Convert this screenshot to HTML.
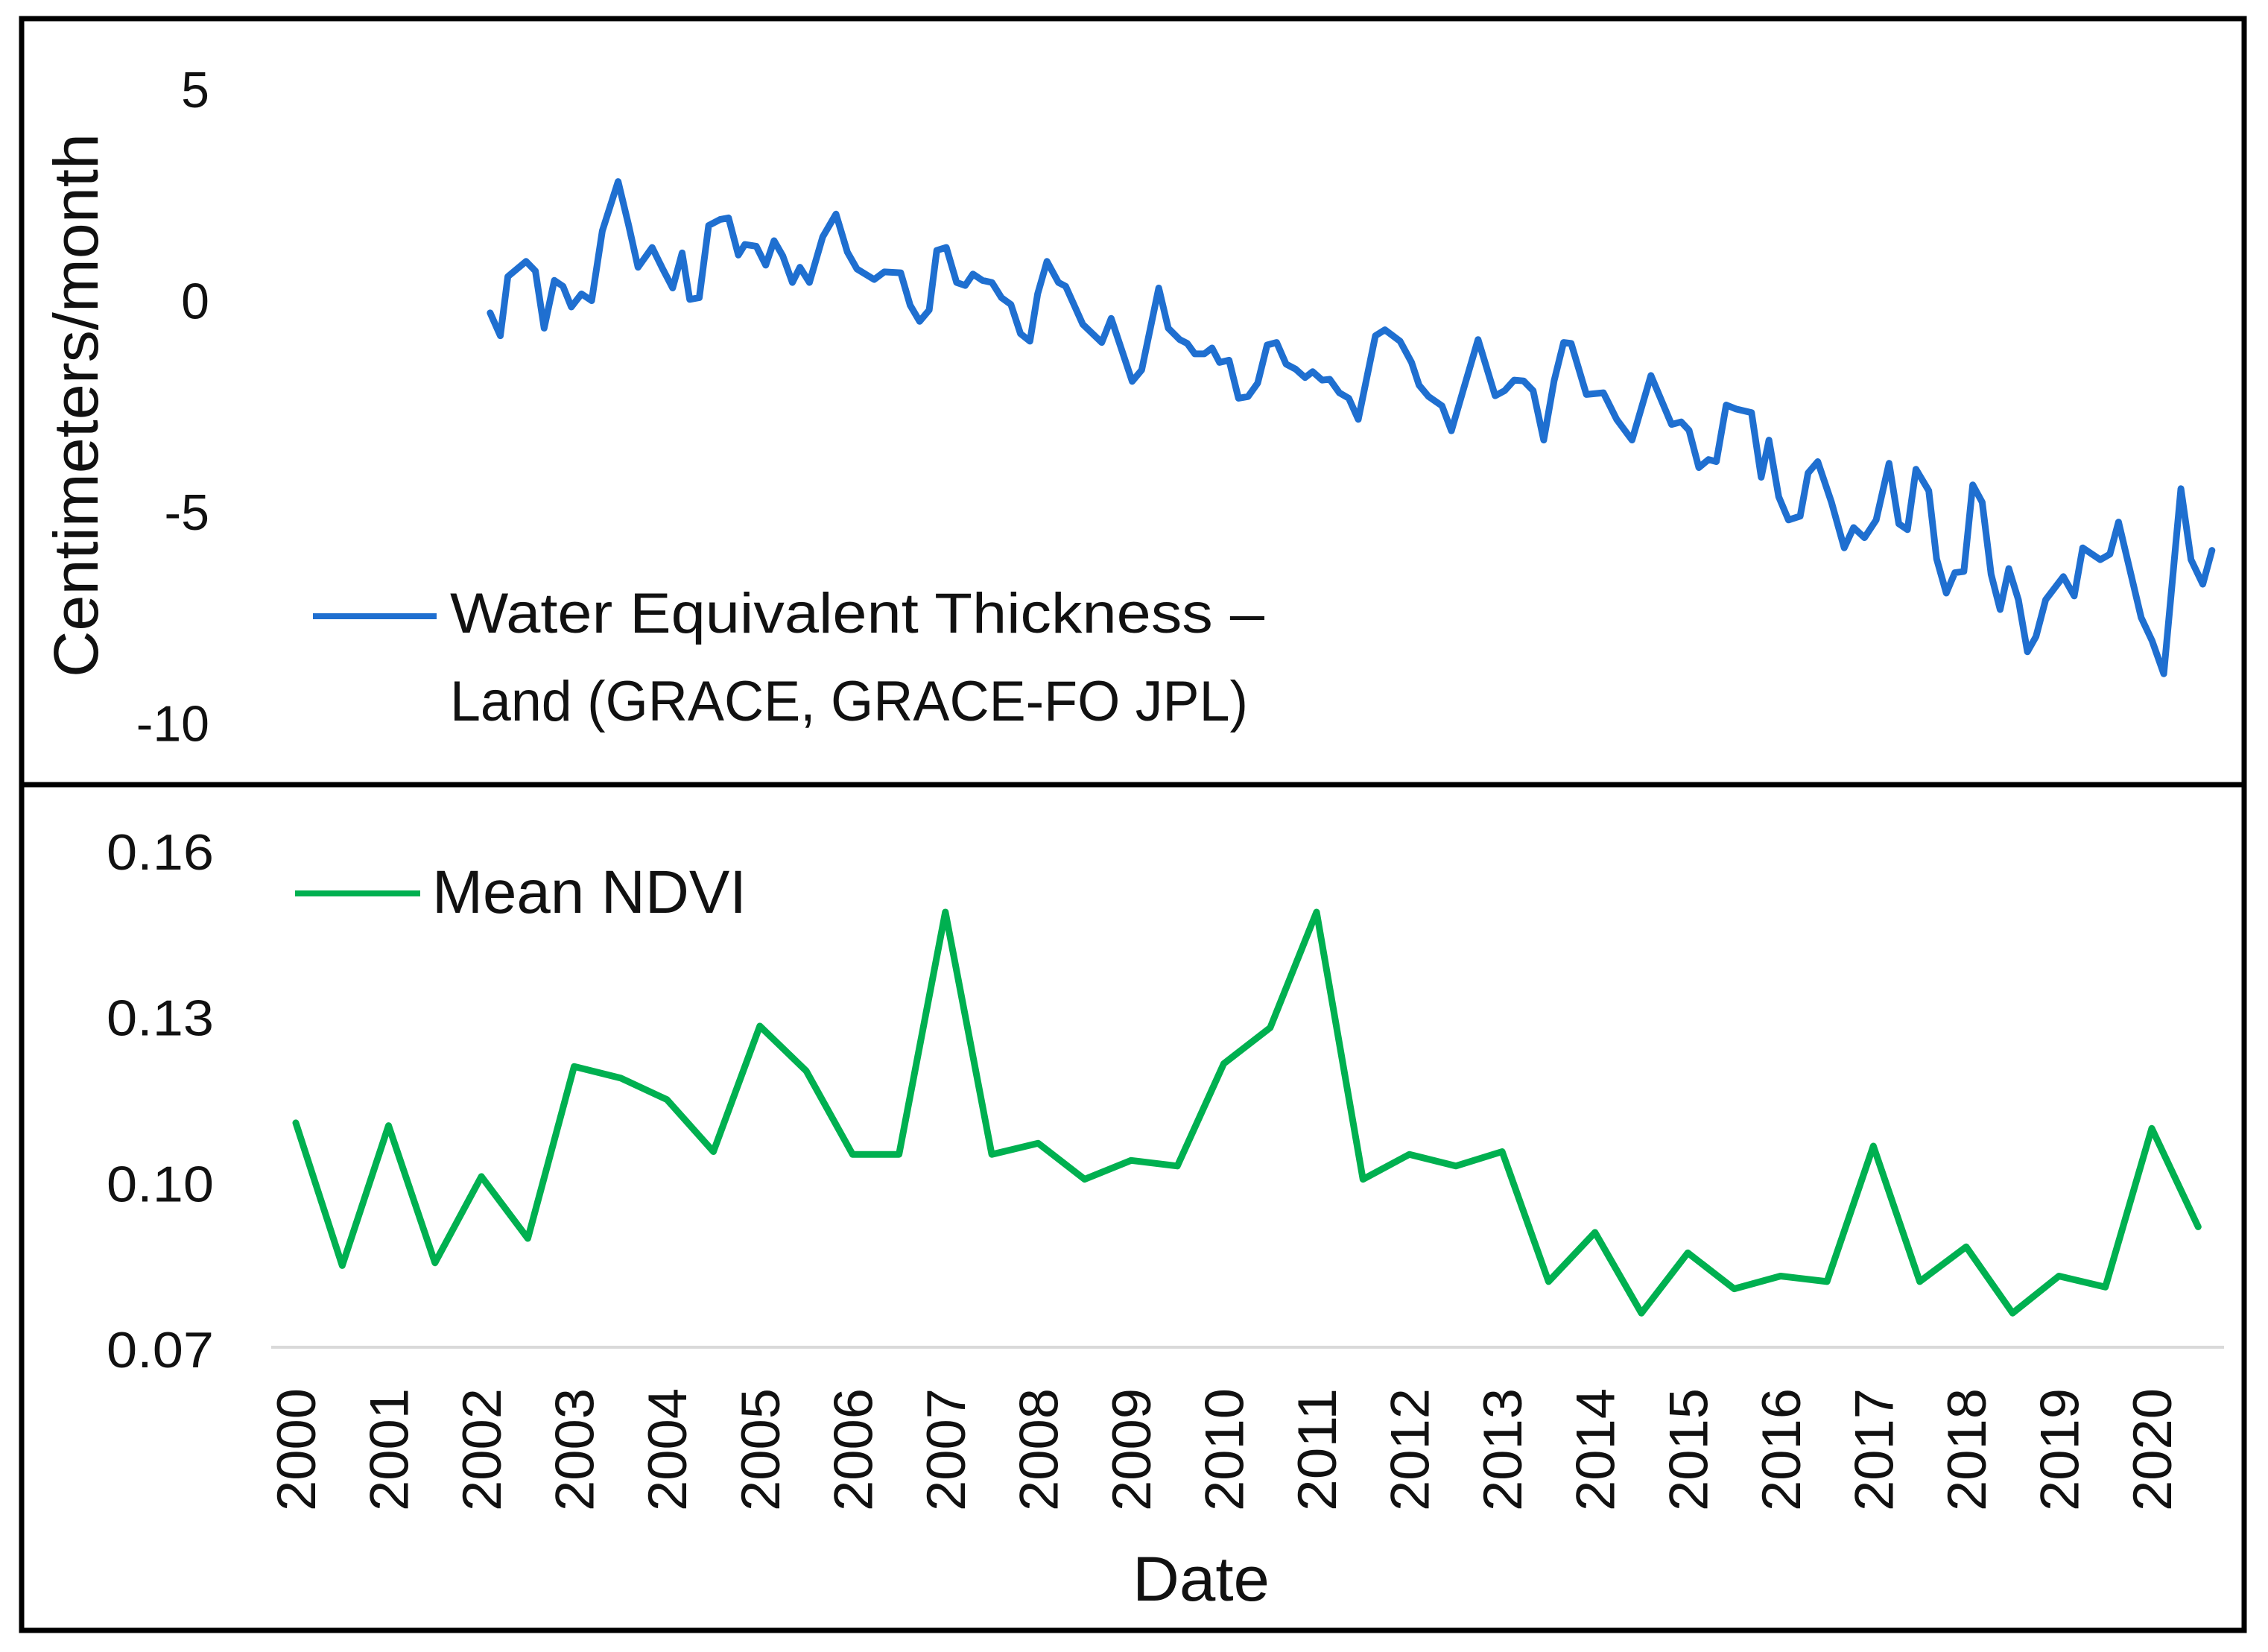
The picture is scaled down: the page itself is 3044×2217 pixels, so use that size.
<!DOCTYPE html>
<html><head><meta charset="utf-8"><style>
html,body{margin:0;padding:0;background:#fff;}
svg{display:block;}
text{font-family:"Liberation Sans",sans-serif;fill:#111;}
</style></head><body>
<svg id="chart" width="3044" height="2217" viewBox="0 0 3044 2217" xmlns="http://www.w3.org/2000/svg">
<rect x="0" y="0" width="3044" height="2217" fill="#fff"/>
<rect x="29" y="25" width="2983" height="2163" fill="none" stroke="#000" stroke-width="7"/>
<line x1="29" y1="1053" x2="3012" y2="1053" stroke="#000" stroke-width="7"/>
<line x1="364" y1="1808" x2="2985" y2="1808" stroke="#d9d9d9" stroke-width="4"/>
<g id="top-ticks"></g>
<g id="bot-ticks"></g>
<g id="x-ticks"></g>
<text transform="translate(131,544) rotate(-90)" text-anchor="middle" font-size="84" textLength="730" lengthAdjust="spacingAndGlyphs">Centimeters/month</text>
<text x="1612" y="2148" text-anchor="middle" font-size="84" textLength="184" lengthAdjust="spacingAndGlyphs">Date</text>
<g>
<line x1="420" y1="827" x2="586" y2="827" stroke="#1f6fd0" stroke-width="8"/>
<text x="604" y="849" font-size="76" textLength="1093" lengthAdjust="spacingAndGlyphs">Water Equivalent Thickness –</text>
<text x="604" y="967" font-size="76" textLength="1071" lengthAdjust="spacingAndGlyphs">Land (GRACE, GRACE-FO JPL)</text>
</g>
<g>
<line x1="396" y1="1199" x2="564" y2="1199" stroke="#00b050" stroke-width="8"/>
<text x="580" y="1225" font-size="82" textLength="422" lengthAdjust="spacingAndGlyphs">Mean NDVI</text>
</g>
<path id="grace-line" fill="none" stroke="#1f6fd0" stroke-width="9" stroke-linejoin="round" stroke-linecap="round"/>
<path id="ndvi-line" fill="none" stroke="#00b050" stroke-width="9" stroke-linejoin="round" stroke-linecap="round"/>
</svg>
<script>
// ---- data ----
const xYears = [2000,2001,2002,2003,2004,2005,2006,2007,2008,2009,2010,2011,2012,2013,2014,2015,2016,2017,2018,2019,2020];
const topTicks = [5,0,-5,-10];
const bottomTicks = [0.16,0.13,0.10,0.07];
const bottomTickLabels = ["0.16","0.13","0.10","0.07"];
const ndviYears = [2000,2000.5,2001,2001.5,2002,2002.5,2003,2003.5,2004,2004.5,2005,2005.5,2006,2006.5,2007,2007.5,2008,2008.5,2009,2009.5,2010,2010.5,2011,2011.5,2012,2012.5,2013,2013.5,2014,2014.5,2015,2015.5,2016,2016.5,2017,2017.5,2018,2018.5,2019,2019.5,2020,2020.5];
const ndviValues = [0.1107,0.0849,0.1102,0.0854,0.1010,0.0898,0.1209,0.1188,0.1149,0.1055,0.1282,0.1201,0.1050,0.1050,0.1488,0.1050,0.1070,0.1005,0.1039,0.1029,0.1214,0.1279,0.1488,0.1005,0.1050,0.1029,0.1055,0.0820,0.0909,0.0763,0.0872,0.0807,0.0830,0.0820,0.1065,0.0820,0.0883,0.0763,0.0830,0.0810,0.1097,0.0919];
const graceYears = [2002.095,2002.204,2002.285,2002.481,2002.582,2002.676,2002.786,2002.879,2002.969,2003.078,2003.188,2003.303,2003.473,2003.587,2003.688,2003.840,2003.954,2004.061,2004.163,2004.245,2004.348,2004.449,2004.572,2004.663,2004.769,2004.839,2004.962,2005.064,2005.154,2005.248,2005.351,2005.432,2005.535,2005.678,2005.821,2005.944,2006.047,2006.232,2006.342,2006.519,2006.621,2006.723,2006.825,2006.907,2007.010,2007.121,2007.214,2007.297,2007.399,2007.502,2007.604,2007.706,2007.809,2007.911,2007.994,2008.095,2008.218,2008.296,2008.481,2008.685,2008.787,2009.013,2009.115,2009.299,2009.402,2009.525,2009.606,2009.688,2009.790,2009.873,2009.954,2010.057,2010.159,2010.262,2010.365,2010.467,2010.569,2010.671,2010.774,2010.876,2010.957,2011.060,2011.142,2011.245,2011.347,2011.449,2011.634,2011.737,2011.900,2012.023,2012.104,2012.207,2012.352,2012.453,2012.596,2012.740,2012.924,2013.027,2013.129,2013.231,2013.334,2013.448,2013.559,2013.662,2013.743,2013.908,2014.091,2014.234,2014.399,2014.603,2014.825,2014.929,2015.014,2015.119,2015.224,2015.308,2015.414,2015.517,2015.687,2015.791,2015.875,2015.980,2016.085,2016.211,2016.296,2016.401,2016.548,2016.686,2016.787,2016.904,2017.030,2017.169,2017.274,2017.367,2017.459,2017.597,2017.681,2017.786,2017.878,2017.975,2018.071,2018.173,2018.269,2018.366,2018.459,2018.563,2018.660,2018.752,2018.857,2019.047,2019.164,2019.256,2019.445,2019.549,2019.642,2019.886,2020.003,2020.129,2020.314,2020.423,2020.550,2020.649];
const graceValues = [-0.29,-0.83,0.57,0.93,0.70,-0.65,0.48,0.34,-0.15,0.16,0.00,1.65,2.82,1.78,0.79,1.26,0.75,0.30,1.13,0.03,0.07,1.78,1.92,1.96,1.08,1.33,1.29,0.84,1.42,1.06,0.43,0.79,0.43,1.51,2.05,1.15,0.75,0.50,0.68,0.66,-0.11,-0.49,-0.22,1.19,1.26,0.43,0.36,0.63,0.48,0.43,0.07,-0.09,-0.78,-0.96,0.16,0.93,0.43,0.34,-0.56,-0.99,-0.42,-1.91,-1.64,0.30,-0.65,-0.92,-1.01,-1.26,-1.26,-1.12,-1.46,-1.41,-2.31,-2.27,-1.95,-1.05,-0.99,-1.50,-1.62,-1.82,-1.68,-1.88,-1.86,-2.18,-2.31,-2.81,-0.83,-0.69,-0.96,-1.46,-2.00,-2.27,-2.49,-3.08,-2.00,-0.92,-2.25,-2.13,-1.88,-1.90,-2.13,-3.30,-1.90,-0.99,-1.01,-2.22,-2.18,-2.81,-3.30,-1.77,-2.93,-2.87,-3.07,-3.95,-3.76,-3.81,-2.47,-2.56,-2.65,-4.18,-3.30,-4.64,-5.19,-5.10,-4.08,-3.81,-4.77,-5.85,-5.37,-5.61,-5.19,-3.85,-5.28,-5.42,-3.99,-4.50,-6.11,-6.92,-6.44,-6.41,-4.36,-4.77,-6.48,-7.31,-6.34,-7.08,-8.31,-7.95,-7.08,-6.53,-6.99,-5.85,-6.13,-6.00,-5.24,-7.50,-8.05,-8.83,-4.45,-6.13,-6.71,-5.91];

// ---- axes ----
function xScale(yr){ return 397 + (yr - 2000) * 124.55; }
function yTop(v){ return 403.5 - v * 56.7; }
function yBot(v){ return 1809 - (v - 0.07) / 0.03 * 222.7; }
const NS = "http://www.w3.org/2000/svg";

const tt = document.getElementById('top-ticks');
topTicks.forEach(v => {
  const t = document.createElementNS(NS, 'text');
  
  
  t.setAttribute('x', 281);
  t.setAttribute('y', yTop(v) + 24);
  t.setAttribute('text-anchor', 'end');
  t.setAttribute('font-size', '68');
  t.textContent = String(v);
  tt.appendChild(t);
});

const bt = document.getElementById('bot-ticks');
bottomTicks.forEach((v, i) => {
  const t = document.createElementNS(NS, 'text');
  
  
  t.setAttribute('x', 287);
  t.setAttribute('y', yBot(v) + 26);
  t.setAttribute('text-anchor', 'end');
  t.setAttribute('font-size', '68');
  t.setAttribute('textLength', '144');
  t.setAttribute('lengthAdjust', 'spacingAndGlyphs');
  t.textContent = bottomTickLabels[i];
  bt.appendChild(t);
});

const xt = document.getElementById('x-ticks');
xYears.forEach(y => {
  const t = document.createElementNS(NS, 'text');
  
  
  const x = xScale(y) + 26;
  t.setAttribute('transform', 'translate(' + x + ',1863) rotate(-90)');
  t.setAttribute('text-anchor', 'end');
  t.setAttribute('font-size', '73');
  t.setAttribute('textLength', '165');
  t.setAttribute('lengthAdjust', 'spacingAndGlyphs');
  t.textContent = String(y);
  xt.appendChild(t);
});

function pathFrom(xs, vs, yf){
  return xs.map((x, i) => (i ? 'L' : 'M') + xScale(x).toFixed(1) + ',' + yf(vs[i]).toFixed(1)).join(' ');
}
document.getElementById('grace-line').setAttribute('d', pathFrom(graceYears, graceValues, yTop));
document.getElementById('ndvi-line').setAttribute('d', pathFrom(ndviYears, ndviValues, yBot));
</script>
</body></html>
